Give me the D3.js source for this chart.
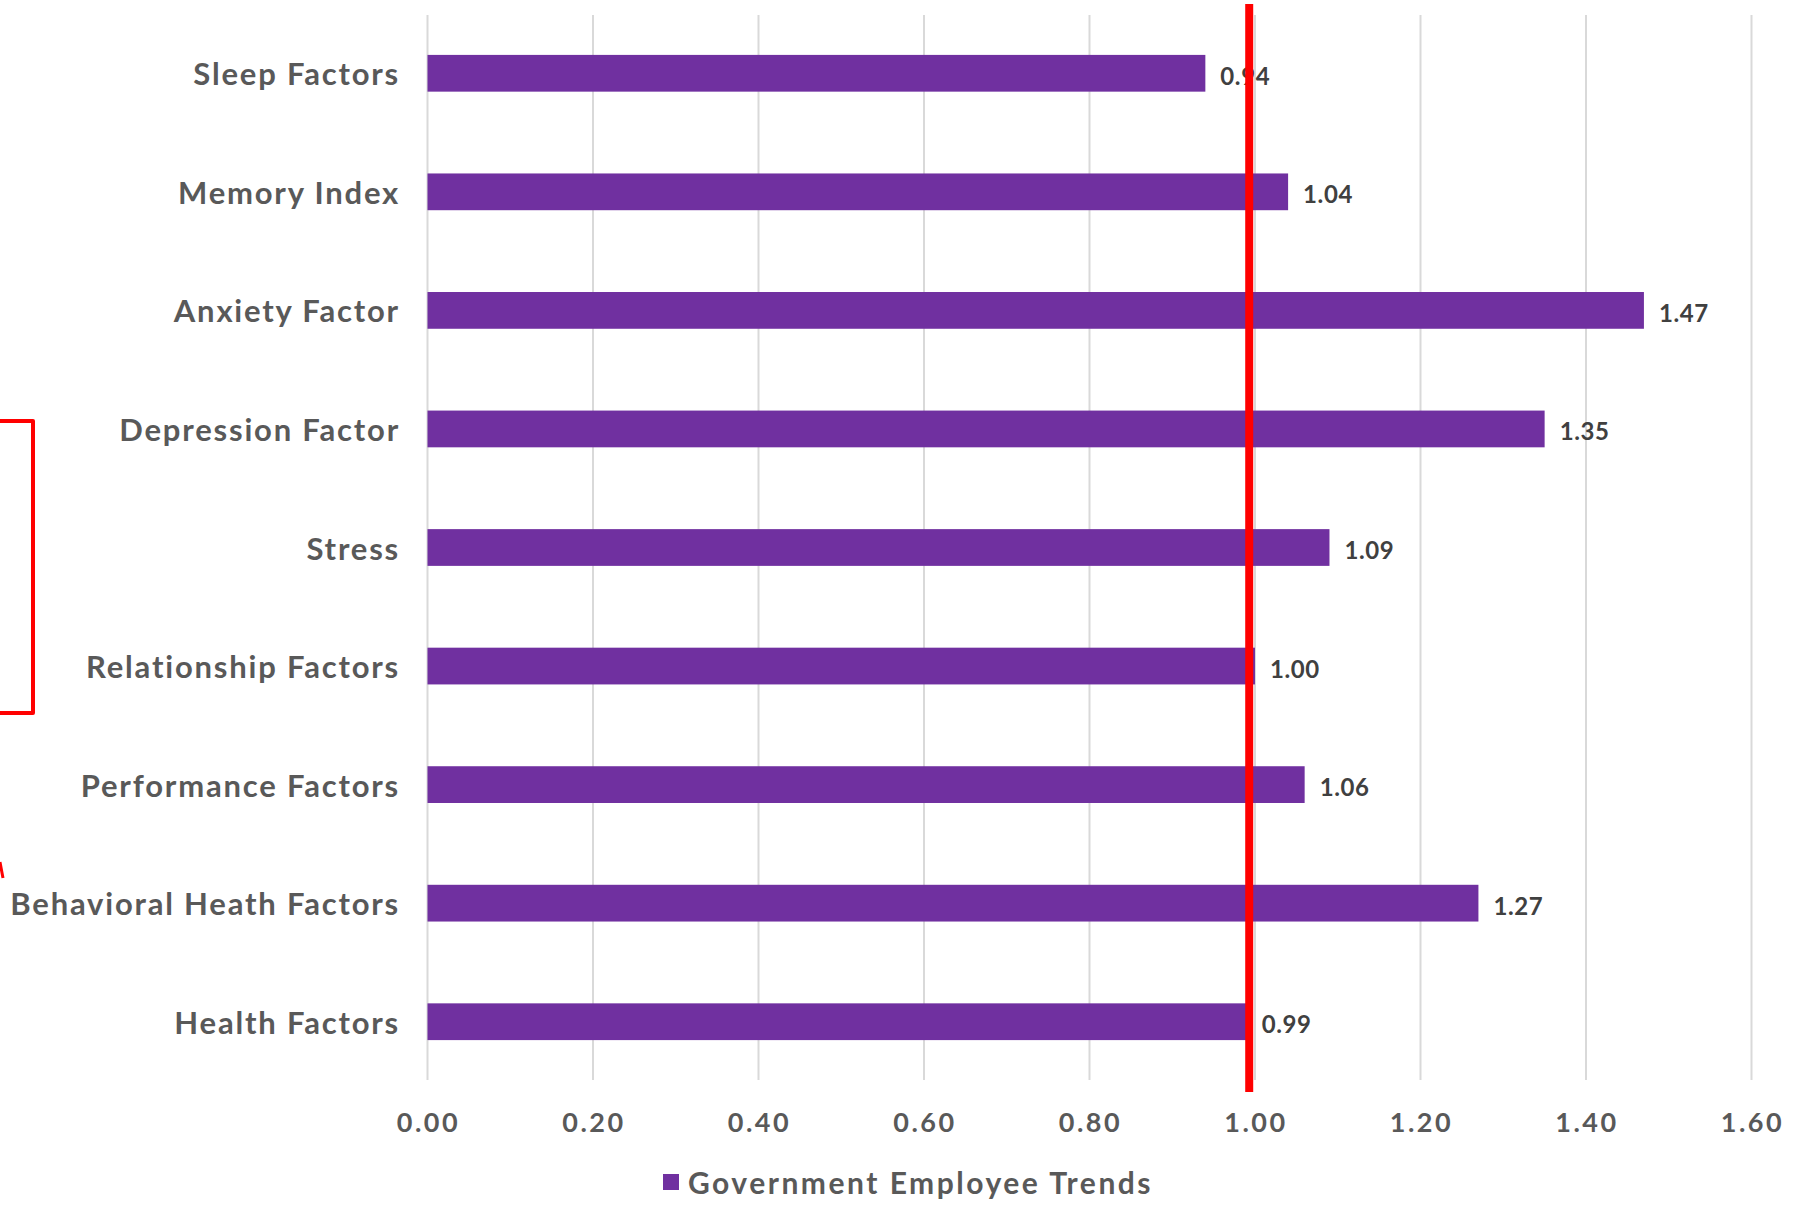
<!DOCTYPE html>
<html>
<head>
<meta charset="utf-8">
<script src="https://cdn.jsdelivr.net/npm/d3@7"></script>
<style>
  body { margin: 0; background: #fff; }
  svg { display: block; font-family: Lato, "Open Sans", sans-serif; }
</style>
</head>
<body>
<script>
// data, top to bottom
const categories = [
  "Sleep Factors", "Memory Index", "Anxiety Factor", "Depression Factor", "Stress",
  "Relationship Factors", "Performance Factors", "Behavioral Heath Factors", "Health Factors"
];
const values = [0.94, 1.04, 1.47, 1.35, 1.09, 1.00, 1.06, 1.27, 0.99];
const ticks = [0, 0.2, 0.4, 0.6, 0.8, 1.0, 1.2, 1.4, 1.6];
const seriesName = "Government Employee Trends";
const markerValue = 0.993; // hand drawn red line, just short of 1.00

const width = 1798, height = 1220;
const purple = "#7030a0";

const svg = d3.select("body").append("svg")
  .attr("width", width)
  .attr("height", height);

const x = d3.scaleLinear().domain([0, 1.6]).range([427.5, 1751.5]);
const y = d3.scaleBand().domain(categories).range([14, 1081]).paddingInner(0.69).paddingOuter(0.345);

// gridlines
svg.append("g")
  .selectAll("line")
  .data(ticks)
  .join("line")
  .attr("x1", d => x(d)).attr("x2", d => x(d))
  .attr("y1", 15).attr("y2", 1080)
  .attr("stroke", "#d9d9d9")
  .attr("stroke-width", 2);

// x tick labels
svg.append("g")
  .selectAll("text")
  .data(ticks)
  .join("text")
  .attr("x", d => x(d) + 1)
  .attr("y", 1121)
  .attr("text-anchor", "middle")
  .attr("dominant-baseline", "central")
  .attr("font-size", 27)
  .attr("font-weight", 700)
  .attr("letter-spacing", 2.5)
  .attr("fill", "#595959")
  .text(d => d.toFixed(2));

// category labels
svg.append("g")
  .selectAll("text")
  .data(categories)
  .join("text")
  .attr("x", 400)
  .attr("y", d => y(d) + y.bandwidth() / 2)
  .attr("text-anchor", "end")
  .attr("dominant-baseline", "central")
  .attr("font-size", 31)
  .attr("font-weight", 700)
  .attr("letter-spacing", 1.8)
  .attr("fill", "#595959")
  .text(d => d);

// bars
svg.append("g")
  .selectAll("rect")
  .data(values)
  .join("rect")
  .attr("x", x(0))
  .attr("y", (d, i) => y(categories[i]))
  .attr("width", d => x(d) - x(0))
  .attr("height", y.bandwidth())
  .attr("fill", purple);

// data labels
svg.append("g")
  .selectAll("text")
  .data(values)
  .join("text")
  .attr("x", d => x(d) + 15)
  .attr("y", (d, i) => y(categories[i]) + y.bandwidth() / 2 + 2)
  .attr("dominant-baseline", "central")
  .attr("font-size", 24)
  .attr("font-weight", 700)
  .attr("letter-spacing", 0.6)
  .attr("fill", "#404040")
  .text(d => d.toFixed(2));

// red reference line drawn over the chart
svg.append("line")
  .attr("x1", x(markerValue)).attr("x2", x(markerValue))
  .attr("y1", 4).attr("y2", 1092)
  .attr("stroke", "#ff0000")
  .attr("stroke-width", 8);

// legend
const legend = svg.append("g").attr("transform", "translate(663,1182)");
legend.append("rect")
  .attr("x", 0).attr("y", -8)
  .attr("width", 16).attr("height", 16)
  .attr("fill", purple);
legend.append("text")
  .attr("x", 25).attr("y", 0)
  .attr("dominant-baseline", "central")
  .attr("font-size", 30)
  .attr("font-weight", 700)
  .attr("letter-spacing", 2.5)
  .attr("fill", "#595959")
  .text(seriesName);

// cropped annotation fragments at the left edge
svg.append("path")
  .attr("d", "M0,421 H33 V713 H0")
  .attr("fill", "none")
  .attr("stroke", "#ff0000")
  .attr("stroke-width", 4)
  .attr("stroke-linejoin", "round");
svg.append("line")
  .attr("x1", 0).attr("y1", 862).attr("x2", 3).attr("y2", 878)
  .attr("stroke", "#ff0000")
  .attr("stroke-width", 3);
</script>
</body>
</html>
